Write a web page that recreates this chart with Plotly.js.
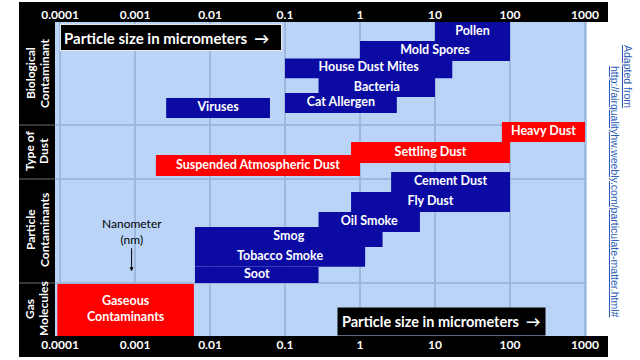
<!DOCTYPE html>
<html><head><meta charset="utf-8">
<script src="https://cdn.plot.ly/plotly-3.0.1.min.js"></script>
<style>html,body{margin:0;padding:0;background:#fff}#chart{width:640px;height:360px}</style>
</head><body><div id="chart"></div>
<script>
// ---- data ----
const contaminants = ["Pollen","Mold Spores","House Dust Mites","Bacteria","Cat Allergen","Viruses",
  "Heavy Dust","Settling Dust","Suspended Atmospheric Dust",
  "Cement Dust","Fly Dust","Oil Smoke","Smog","Tobacco Smoke","Soot",
  "Gaseous<br>Contaminants"];
const kind = ["bio","bio","bio","bio","bio","bio","dust","dust","dust",
  "particle","particle","particle","particle","particle","particle","gas"];
const sizeMin = [10, 1, 0.1, 0.28, 0.1, 0.0026, 78, 0.76, 0.0019, 2.6, 0.76, 0.28, 0.0063, 0.0063, 0.0063, 0.000092];
const sizeMax = [100, 100, 17, 10, 3.1, 0.063, 1000, 100, 1, 100, 100, 6.3, 2, 1.17, 0.28, 0.0061];
const lane = [0.48, 1.48, 2.36, 3.34, 4.13, 4.38, 5.6, 6.65, 7.31, 8.15, 9.17, 10.19, 10.96, 11.97, 12.89, 14.68];
const laneSpan = [0.97, 1.02, 1.0, 0.97, 1.02, 1.02, 1.02, 1.07, 1.07, 1.02, 1.02, 1.02, 1.02, 1.0, 0.82, 2.65];
const groupLines1 = ["Biological","Type of","Particle","Gas"];
const groupLines2 = ["Contaminant","Dust","Contaminants","Molecules"];
const groupMid = [2.6, 6.57, 10.6, 14.62];
const groupBounds = [5.25, 8.0, 13.3];
const tickVals = [0.0001, 0.001, 0.01, 0.1, 1, 10, 100, 1000];
const tickText = ["0.0001","0.001","0.01","0.1","1","10","100","1000"];
const nanometerAt = 0.0009;
const axisTitle = "Particle size in micrometers  \u2192";
const sourceLine1 = "Adapted from";
const sourceLine2 = "http://airqualityhw.weebly.com/particulate-matter.html#";

// ---- styles ----
const BLUE = "#0b0ba3", RED = "#ff0000", BG = "#b9d4f7", GRID = "#9db8dc";
const FONT = "Lato, 'Open Sans', sans-serif";
const colorFor = {bio: BLUE, particle: BLUE, dust: RED, gas: RED};

const bars = {
  type: "bar", orientation: "h",
  y: lane, base: sizeMin, x: sizeMax.map((v, i) => v - sizeMin[i]),
  width: laneSpan,
  marker: {color: kind.map(k => colorFor[k]), line: {width: 0}},
  hoverinfo: "skip", showlegend: false
};
const labels = {
  type: "scatter", mode: "text",
  x: sizeMin.map((v, i) => Math.sqrt(v * sizeMax[i])), y: lane,
  text: contaminants,
  textfont: {family: FONT, size: 12.5, color: "#ffffff", weight: "bold"},
  textposition: "middle center", hoverinfo: "skip", showlegend: false
};
const topAxisHelper = {
  type: "scatter", mode: "markers", x: [1], y: [0], xaxis: "x2",
  marker: {opacity: 0}, hoverinfo: "skip", showlegend: false
};

const L = 55, R = 587, T = 22, B = 336, W = 532, H = 314;
const px = v => (v - L) / W, py = v => 1 - (v - T) / H;

const shapes = [
  {type: "rect", xref: "paper", yref: "paper", x0: px(19), x1: px(608), y0: py(2), y1: 1, fillcolor: "#000", line: {width: 0}, layer: "below"},
  {type: "rect", xref: "paper", yref: "paper", x0: px(19), x1: px(608), y0: py(357), y1: 0, fillcolor: "#000", line: {width: 0}, layer: "below"},
  {type: "rect", xref: "paper", yref: "paper", x0: px(19), x1: 0, y0: py(357), y1: py(2), fillcolor: "#000", line: {width: 0}, layer: "below"}
].concat(groupBounds.map(b => ({type: "line", xref: "paper", yref: "y", x0: px(19), x1: 0, y0: b, y1: b, line: {color: "#6b6b6b", width: 1}})));

const groupFont = {family: FONT, size: 12, color: "#fff", weight: "bold"};
const annotations = [];
groupMid.forEach((m, i) => {
  annotations.push({xref: "paper", yref: "y", x: px(30), y: m, xanchor: "center", yanchor: "middle", text: groupLines1[i], textangle: -90, showarrow: false, font: groupFont});
  annotations.push({xref: "paper", yref: "y", x: px(44), y: m, xanchor: "center", yanchor: "middle", text: groupLines2[i], textangle: -90, showarrow: false, font: groupFont});
});
annotations.push({
  xref: "x", yref: "y", x: Math.log10(nanometerAt), y: 12.7, text: "Nanometer<br>(nm)",
  showarrow: true, arrowhead: 2, arrowsize: 0.8, arrowwidth: 1, arrowcolor: "#000", ax: 0, ay: -40,
  font: {family: FONT, size: 12, color: "#000"}
});
annotations.push({
  xref: "paper", yref: "paper", x: px(60), y: py(24), xanchor: "left", yanchor: "top",
  text: axisTitle, showarrow: false, bgcolor: "#000", bordercolor: "#e8e8e8", borderwidth: 1, borderpad: 3,
  width: 214, height: 19, align: "left",
  font: {family: FONT, size: 15, color: "#fff", weight: "bold"}
});
annotations.push({
  xref: "paper", yref: "paper", x: px(337), y: 0, xanchor: "left", yanchor: "bottom",
  text: axisTitle, showarrow: false, bgcolor: "#000", borderpad: 4,
  width: 199, height: 19, align: "left",
  font: {family: FONT, size: 14.5, color: "#fff", weight: "bold"}
});
const linkFont = {family: "'Liberation Sans', Arial, sans-serif", size: 10.5, color: "#2a5cb8"};
annotations.push({
  xref: "paper", yref: "paper", x: px(628), y: py(76), xanchor: "center", yanchor: "middle",
  text: '<span style="text-decoration:underline">' + sourceLine1 + '</span>',
  textangle: 90, showarrow: false, font: linkFont
});
annotations.push({
  xref: "paper", yref: "paper", x: px(615), y: py(191), xanchor: "center", yanchor: "middle",
  text: '<span style="text-decoration:underline">' + sourceLine2 + '</span>',
  textangle: 90, showarrow: false, font: linkFont
});

const axisCommon = {
  type: "log", range: [Math.log10(0.0001) - 0.067, Math.log10(1000) + 0.027],
  tickvals: tickVals, ticktext: tickText, ticks: "", showline: false, zeroline: false,
  tickfont: {family: FONT, size: 12, color: "#fff", weight: "bold"}
};
const layout = {
  width: 640, height: 360,
  margin: {l: L, r: 640 - R, t: T, b: 360 - B, pad: 0},
  paper_bgcolor: "#fff", plot_bgcolor: BG,
  barmode: "overlay", showlegend: false,
  xaxis: Object.assign({}, axisCommon, {side: "bottom", showgrid: true, gridcolor: GRID, gridwidth: 1.5}),
  xaxis2: Object.assign({}, axisCommon, {side: "top", overlaying: "x", showgrid: false}),
  yaxis: {range: [16, 0], tickvals: groupBounds, showticklabels: false, ticks: "", showgrid: true,
    gridcolor: GRID, gridwidth: 1.5, zeroline: false, showline: false},
  shapes: shapes, annotations: annotations
};
Plotly.newPlot("chart", [bars, labels, topAxisHelper], layout, {displayModeBar: false, staticPlot: true});
</script></body></html>
